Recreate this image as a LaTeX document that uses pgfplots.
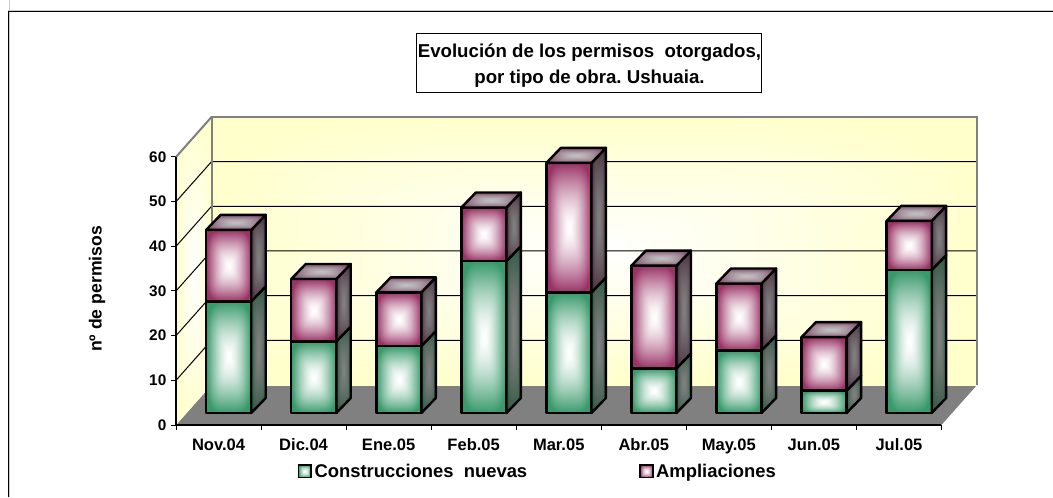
\documentclass[border=0pt]{standalone}
\usepackage{fontspec}
\setmainfont{Liberation Sans}
\usepackage{pgfplots}
\usepackage{pgfplotstable}
\pgfplotsset{compat=1.18}
\frenchspacing

% one picture pixel = 0.75pt
% box gradient: name, centre rgb, (edge - centre) rgb, falloff code
\newcommand\boxshade[8]{\pgfdeclarefunctionalshading{#1}{\pgfpointorigin}{\pgfpoint{100bp}{100bp}}{}{
  50 sub 25 div dup mul dup mul exch 50 sub 25 div dup mul dup mul add sqrt sqrt dup 1 gt {pop 1} if #8
  dup #5 mul #2 add exch dup #6 mul #3 add exch #7 mul #4 add}}
\boxshade{greenface}{1}{1}{1}{-0.78}{-0.40}{-0.58}{dup sqrt mul}
\boxshade{magface}{1}{1}{1}{-0.40}{-0.80}{-0.60}{dup sqrt mul}
\boxshade{greenside}{0.5}{0.5}{0.5}{-0.30}{-0.15}{-0.23}{dup sqrt mul}
\boxshade{magside}{0.5}{0.5}{0.5}{-0.20}{-0.30}{-0.24}{dup sqrt mul}
\boxshade{magtop}{0.75}{0.75}{0.75}{-0.25}{-0.45}{-0.33}{dup sqrt mul}
\boxshade{wall}{1}{1}{1}{0}{0}{-0.2}{}

\definecolor{wallgrey}{HTML}{808080}

\pgfplotstableread{
mes nuevas ampliaciones
0 25 16
1 16 14
2 15 12
3 34 12
4 27 29
5 10 23
6 14 15
7 5 12
8 32 11
}\permisos

\pgfplotsset{face/.style={forget plot,draw=black,line width=1.8pt,line join=round}}

% idx, low, high, front shading, side shading
\newcommand\barseg[5]{%
  \pgfmathsetmacro\xa{#1+0.355}\pgfmathsetmacro\xb{#1+0.885}\pgfmathsetmacro\xc{#1+1.055}%
  \pgfmathsetmacro\ya{#2+2.686}\pgfmathsetmacro\yb{#3+2.686}%
  \pgfmathsetmacro\yc{#2+6.046}\pgfmathsetmacro\yd{#3+6.046}%
  \addplot[face,shade,shading=#4] coordinates {(\xa,\ya) (\xb,\ya) (\xb,\yb) (\xa,\yb)} -- cycle;
  \addplot[face,shade,shading=#5] coordinates {(\xb,\ya) (\xc,\yc) (\xc,\yd) (\xb,\yb)} -- cycle;
}

\begin{document}
\begin{tikzpicture}
\useasboundingbox (0,0) rectangle (789.75pt,372.75pt);
% outer frame, cut by the image edge
\draw[line width=0.75pt,black!20] (6.75pt,372.75pt) -- (6.75pt,0pt);
\draw[line width=0.75pt,black!20] (6pt,364.5pt) -- (789.75pt,364.5pt);
\draw[line width=0.75pt,black] (789.75pt,363.75pt) -- (6pt,363.75pt) -- (6pt,0pt);

\begin{axis}[
  at={(132pt,54pt)}, anchor=south west,
  scale only axis, width=600.75pt, height=231pt,
  xmin=0, xmax=9.4176, ymin=0, ymax=68.955,
  clip=false,
  axis x line=bottom, axis y line=left,
  axis line style={draw=none},
  tick align=outside,
  xtick={0.5,1.5,...,8.5},
  xticklabels={Nov.04,Dic.04,Ene.05,Feb.05,Mar.05,Abr.05,May.05,Jun.05,Jul.05},
  minor xtick={0,1,...,9},
  ytick={0,10,...,60},
  major x tick style={draw=none},
  minor x tick style={black,line width=0.75pt},
  major y tick style={black,line width=0.75pt},
  major tick length=3.75pt, minor tick length=3.75pt,
  yticklabel style={font=\fontsize{11.5}{13}\selectfont\bfseries},
  xticklabel style={font=\fontsize{12.4}{14}\selectfont\bfseries,text height=9pt,text depth=0pt,yshift=-3pt},
  /pgf/number format/assume math mode=true,
  ylabel={nº de permisos},
  every axis y label/.style={at={(axis description cs:-0.0986,0.4416)},rotate=90,anchor=center,
    font=\fontsize{13.2}{15}\selectfont\bfseries},
  title={\rule{0pt}{13pt}Evolución de los permisos\ \ otorgados,\\por tipo de obra. Ushuaia.},
  every axis title/.style={at={(axis description cs:0.5162,1.1737)},anchor=center,
    draw=black,fill=white,line width=0.75pt,align=center,inner sep=0pt,
    minimum width=258.75pt,minimum height=44.25pt,
    font=\fontsize{14}{19.5}\selectfont\bfseries},
  legend style={at={(axis description cs:0.1515,-0.151)},anchor=west,draw=none,fill=none,
    inner sep=0pt,legend columns=2,font=\fontsize{13.8}{16}\selectfont\bfseries,
    /tikz/every even column/.append style={column sep=82pt}},
  legend cell align=left,
]
% floor and walls
\addplot[fill=wallgrey,draw=none,forget plot] coordinates {(0,0) (9,0) (9.4176,8.955) (0.4176,8.955)} -- cycle;
\addplot[shade,shading=wall,draw=none,forget plot] coordinates {(0.4176,8.955) (9.4176,8.955) (9.4176,68.955) (0.4176,68.955)} -- cycle;
\addplot[shade,shading=wall,draw=none,forget plot] coordinates {(0,0) (0.4176,8.955) (0.4176,68.955) (0,60)} -- cycle;
% grid
\pgfplotsforeachungrouped \v in {10,20,30,40,50} {
  \pgfmathsetmacro\vb{\v+8.955}
  \addplot[black,line width=0.75pt,forget plot] coordinates {(0,\v) (0.4176,\vb) (9.4176,\vb)};
}
% wall edges
\addplot[wallgrey,line width=1.5pt,forget plot] coordinates {(0.4176,8.955) (0.4176,68.955) (9.4176,68.955) (9.4176,8.955)};
\addplot[wallgrey,line width=1.5pt,forget plot] coordinates {(0,60) (0.4176,68.955)};
% front axis lines
\addplot[black,line width=0.9pt,forget plot] coordinates {(0,60) (0,0) (9,0)};
% bars
\pgfplotsforeachungrouped \i in {0,...,8} {
  \pgfplotstablegetelem{\i}{nuevas}\of\permisos \let\nv\pgfplotsretval
  \pgfplotstablegetelem{\i}{ampliaciones}\of\permisos \let\am\pgfplotsretval
  \pgfmathsetmacro\tp{\nv+\am}
  \barseg{\i}{0}{\nv}{greenface}{greenside}
  \barseg{\i}{\nv}{\tp}{magface}{magside}
  \pgfmathsetmacro\xa{\i+0.355}\pgfmathsetmacro\xb{\i+0.885}
  \pgfmathsetmacro\xc{\i+0.525}\pgfmathsetmacro\xd{\i+1.055}
  \pgfmathsetmacro\ya{\tp+2.686}\pgfmathsetmacro\yb{\tp+6.046}
  \addplot[face,shade,shading=magtop] coordinates {(\xa,\ya) (\xb,\ya) (\xd,\yb) (\xc,\yb)} -- cycle;
}
\addlegendimage{legend image code/.code={\draw[black,line width=1.2pt,shade,shading=greenface] (0pt,-4.5pt) rectangle (9.5pt,5pt);}}
\addlegendentry{Construcciones\ \ nuevas}
\addlegendimage{legend image code/.code={\draw[black,line width=1.2pt,shade,shading=magface] (0pt,-4.5pt) rectangle (9.5pt,5pt);}}
\addlegendentry{Ampliaciones}
\end{axis}
\end{tikzpicture}
\end{document}
